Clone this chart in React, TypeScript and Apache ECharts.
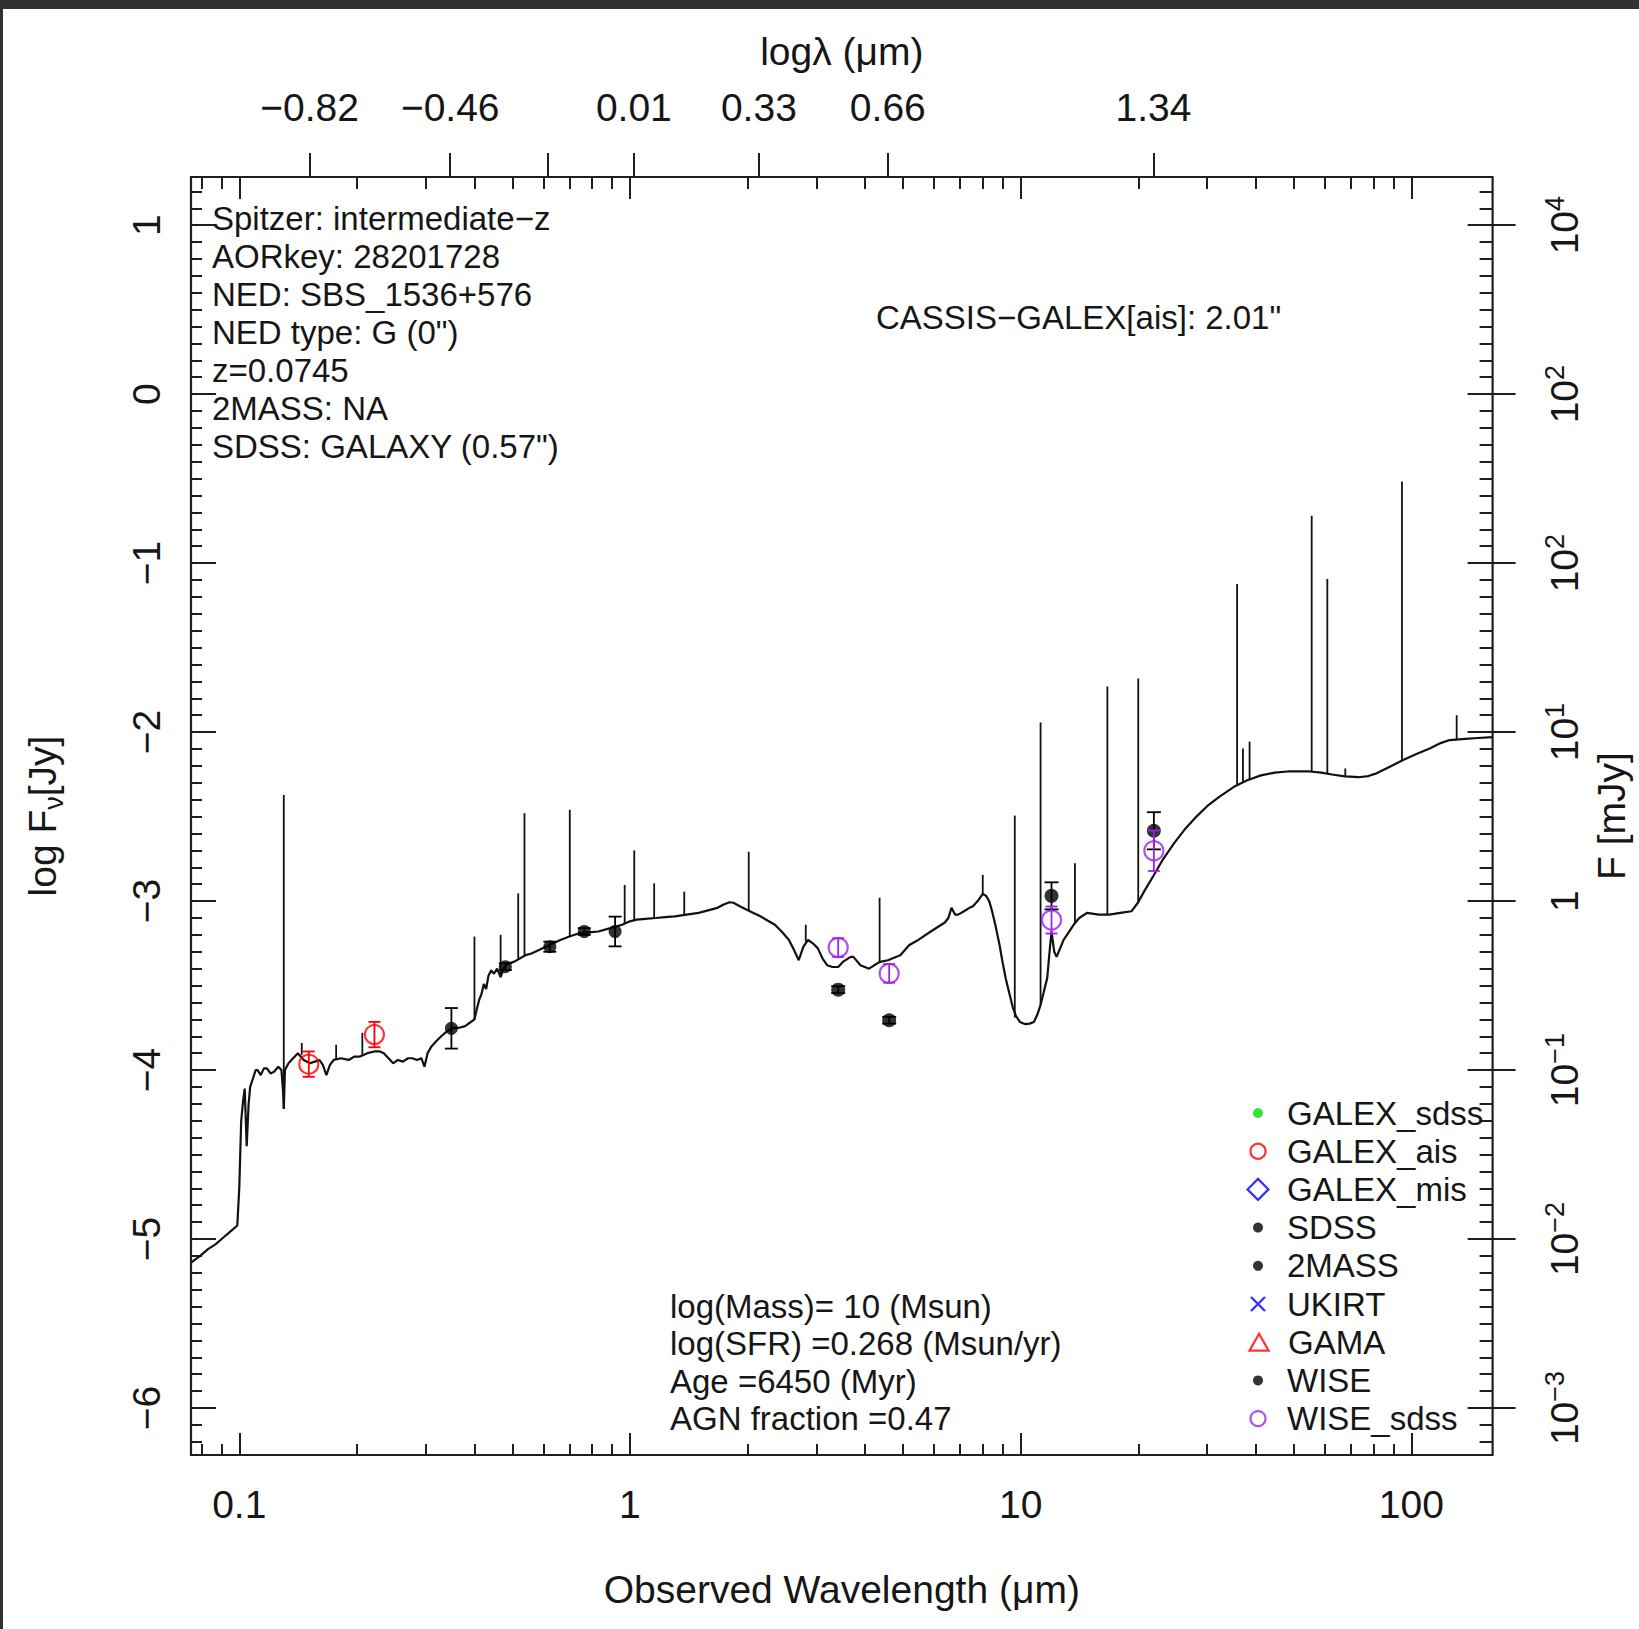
import React, { useEffect, useRef } from "react";
import * as echarts from "echarts";

const W = 1639;
const H = 1629;
const FONT = "'Liberation Sans', Arial, Helvetica, sans-serif";
const TXT = "#161616";
const AX = "#1e1e1e";

// ---- axis ranges (log10 wavelength in micron, log10 flux in Jy) ----
const X_MIN = -1.1235;
const X_MAX = 2.208;
const Y_MIN = -6.278;
const Y_MAX = 1.285;

// ---- tick labels ----
const bottomTickVals = [-1, 0, 1, 2];
const bottomTickLabels = ["0.1", "1", "10", "100"];
const topTickVals = [-0.82, -0.46, -0.21, 0.01, 0.33, 0.66, 1.34];
const topTickLabels = ["\u22120.82", "\u22120.46", "", "0.01", "0.33", "0.66", "1.34"];
const leftTickVals = [-6, -5, -4, -3, -2, -1, 0, 1];
const leftTickLabels = ["\u22126", "\u22125", "\u22124", "\u22123", "\u22122", "\u22121", "0", "1"];
const rightTickLabels = [
  "{b|10}{s|\u22123}",
  "{b|10}{s|\u22122}",
  "{b|10}{s|\u22121}",
  "{b|1}",
  "{b|10}{s|1}",
  "{b|10}{s|2}",
  "{b|10}{s|2}",
  "{b|10}{s|4}",
];

// ---- model SED continuum: log10(lambda/um), log10(F/Jy) ----
const modelLogLam = [
  -1.1235, -1.1, -1.08, -1.06, -1.045, -1.02, -1.005, -1.0, -0.995, -0.99, -0.986, -0.981, -0.976,
  -0.972, -0.965, -0.958, -0.953, -0.945, -0.937, -0.929, -0.92, -0.911, -0.9, -0.892, -0.888,
  -0.886, -0.883, -0.874, -0.862, -0.85, -0.835, -0.819, -0.807, -0.795, -0.786, -0.777, -0.768,
  -0.758, -0.74, -0.72, -0.705, -0.691, -0.672, -0.654, -0.64, -0.63, -0.618, -0.606, -0.594,
  -0.581, -0.568, -0.557, -0.545, -0.534, -0.526, -0.518, -0.508, -0.496, -0.483, -0.468, -0.453,
  -0.437, -0.422, -0.41, -0.398, -0.392, -0.386, -0.38, -0.374, -0.368, -0.362, -0.355, -0.348,
  -0.34, -0.331, -0.322, -0.312, -0.297, -0.282, -0.267, -0.252, -0.233, -0.215, -0.196, -0.178,
  -0.155, -0.13, -0.105, -0.081, -0.05, -0.02, 0.0, 0.017, 0.04, 0.066, 0.09, 0.115, 0.145, 0.176,
  0.2, 0.224, 0.24, 0.255, 0.265, 0.273, 0.285, 0.298, 0.316, 0.334, 0.352, 0.371, 0.39, 0.407,
  0.42, 0.432, 0.444, 0.456, 0.468, 0.481, 0.493, 0.505, 0.518, 0.533, 0.545, 0.555, 0.565, 0.572,
  0.59, 0.612, 0.625, 0.64, 0.66, 0.692, 0.715, 0.738, 0.77, 0.806, 0.815, 0.823, 0.832, 0.84,
  0.855, 0.869, 0.878, 0.89, 0.903, 0.912, 0.92, 0.928, 0.937, 0.946, 0.954, 0.962, 0.971, 0.98,
  0.988, 0.998, 1.011, 1.023, 1.034, 1.043, 1.051, 1.06, 1.068, 1.074, 1.079, 1.086, 1.092, 1.11,
  1.136, 1.15, 1.17, 1.2, 1.227, 1.255, 1.284, 1.3, 1.318, 1.34, 1.364, 1.392, 1.421, 1.45, 1.478,
  1.51, 1.546, 1.58, 1.615, 1.65, 1.683, 1.74, 1.77, 1.797, 1.83, 1.865, 1.89, 1.911, 1.945, 1.979,
  2.013, 2.047, 2.075, 2.098, 2.138, 2.17, 2.208,
];
const modelLogF = [
  -5.14, -5.1, -5.06, -5.03, -5.0, -4.95, -4.92, -4.7, -4.3, -4.18, -4.11, -4.45, -4.2,
  -4.1, -4.05, -4.0, -4.0, -4.03, -3.99, -3.99, -4.02, -4.01, -3.98, -4.0, -4.12,
  -4.23, -4.0, -3.96, -3.93, -3.9, -3.94, -3.96, -3.95, -3.94, -3.97, -4.03, -3.97,
  -3.94, -3.93, -3.94, -3.92, -3.92, -3.9, -3.89, -3.89, -3.9, -3.93, -3.96, -3.94,
  -3.95, -3.93, -3.93, -3.94, -3.93, -3.98, -3.9, -3.86, -3.83, -3.8, -3.77, -3.75,
  -3.75, -3.74, -3.72, -3.7, -3.64, -3.585, -3.55, -3.49, -3.52, -3.44, -3.41, -3.43,
  -3.4, -3.45, -3.39, -3.37, -3.36, -3.34, -3.32, -3.31, -3.29, -3.27, -3.25, -3.23,
  -3.21, -3.19, -3.185, -3.18, -3.16, -3.14, -3.12, -3.11, -3.105, -3.1, -3.095, -3.09, -3.08, -3.07,
  -3.055, -3.04, -3.02, -3.007, -3.01, -3.02, -3.035, -3.05, -3.07, -3.09, -3.115, -3.14, -3.185, -3.23,
  -3.29, -3.35, -3.27, -3.23, -3.25, -3.28, -3.34, -3.38, -3.39, -3.39, -3.36, -3.345, -3.33, -3.33,
  -3.38, -3.4, -3.38, -3.36, -3.35, -3.32, -3.26, -3.23, -3.18, -3.127, -3.1, -3.04, -3.08, -3.08,
  -3.06, -3.04, -3.03, -3.0, -2.957, -2.97, -3.003, -3.07, -3.16, -3.26, -3.365, -3.46, -3.546, -3.63,
  -3.68, -3.715, -3.728, -3.725, -3.716, -3.67, -3.614, -3.53, -3.456, -3.3, -3.18, -3.3, -3.33, -3.23,
  -3.139, -3.1, -3.07, -3.08, -3.08, -3.07, -3.06, -3.01, -2.935, -2.85, -2.754, -2.66, -2.573, -2.5, -2.437,
  -2.38, -2.324, -2.285, -2.256, -2.24, -2.233, -2.233, -2.24, -2.251, -2.262, -2.267, -2.26, -2.244, -2.205, -2.165,
  -2.13, -2.097, -2.065, -2.047, -2.04, -2.035, -2.03,
];

// ---- emission lines of the model: position, foot, peak ----
const lineLogLam = [
  -0.886, -0.84, -0.752, -0.685, -0.398, -0.331, -0.286, -0.27, -0.154, -0.0135, 0.011, 0.062,
  0.139, 0.304, 0.45, 0.639, 0.903, 0.985, 1.051, 1.139, 1.222, 1.301, 1.554, 1.569, 1.586,
  1.745, 1.785, 1.831, 1.976, 2.116,
];
const lineBase = [
  -4.23, -3.91, -3.94, -3.91, -3.7, -3.45, -3.34, -3.33, -3.21, -3.135, -3.115, -3.1,
  -3.085, -3.055, -3.24, -3.36, -2.957, -3.69, -3.614, -3.135, -3.08, -3.01, -2.31, -2.3, -2.285,
  -2.233, -2.245, -2.262, -2.168, -2.044,
];
const lineTop = [
  -2.372, -3.84, -3.85, -3.78, -3.21, -3.2, -2.954, -2.48, -2.46, -2.905, -2.7, -2.895,
  -2.944, -2.708, -3.14, -2.98, -2.845, -2.494, -1.943, -2.776, -1.73, -1.683, -1.124, -2.097, -2.056,
  -0.72, -1.094, -2.215, -0.517, -1.9,
];

// ---- photometry ----
const galexAisLogLam = [-0.822, -0.654];
const galexAisLogF = [-3.965, -3.79];
const galexAisErr = [0.075, 0.075];

const sdssLogLam = [-0.457, -0.319, -0.205, -0.117, -0.038];
const sdssLogF = [-3.753, -3.388, -3.27, -3.18, -3.18];
const sdssErr = [0.12, 0.02, 0.03, 0.02, 0.088];

const wiseLogLam = [0.533, 0.6635, 1.079, 1.341];
const wiseLogF = [-3.524, -3.705, -2.969, -2.584];
const wiseErr = [0.02, 0.02, 0.08, 0.11];

const wiseSdssLogLam = [0.533, 0.6635, 1.079, 1.341];
const wiseSdssLogF = [-3.275, -3.428, -3.112, -2.702];
const wiseSdssErr = [0.055, 0.055, 0.08, 0.12];

// ---- legend ----
const legendNames = ["GALEX_sdss", "GALEX_ais", "GALEX_mis", "SDSS", "2MASS", "UKIRT", "GAMA", "WISE", "WISE_sdss"];

// ---- annotations ----
const infoLines = [
  "Spitzer: intermediate\u2212z",
  "AORkey: 28201728",
  "NED: SBS_1536+576",
  "NED type: G (0\")",
  "z=0.0745",
  "2MASS: NA",
  "SDSS: GALAXY (0.57\")",
];
const matchText = "CASSIS\u2212GALEX[ais]: 2.01\"";
const fitLines = [
  "log(Mass)= 10 (Msun)",
  "log(SFR) =0.268 (Msun/yr)",
  "Age =6450 (Myr)",
  "AGN fraction =0.47",
];

const C_RED = "#ff0000";
const C_GREEN = "#00e000";
const C_BLUE = "#0000ff";
const C_PURPLE = "#a020f0";
const C_BLACK = "#000000";

function xMinorTicks(): number[] {
  const out: number[] = [];
  for (let n = -2; n <= 2; n++) {
    for (let k = 2; k <= 9; k++) {
      const v = n + Math.log10(k);
      if (v > X_MIN && v < X_MAX) out.push(v);
    }
  }
  return out;
}
function yMinorTicks(): number[] {
  const out: number[] = [];
  for (let i = -62; i <= 12; i++) {
    if (i % 10 !== 0) out.push(i / 10);
  }
  return out;
}

function pickLabel(vals: number[], labels: string[]) {
  return (v: number) => {
    const i = vals.findIndex((t) => Math.abs(t - v) < 1e-6);
    return i >= 0 ? labels[i] : "";
  };
}

function makeErrRender(color: string, lw: number, cap: number) {
  return (_params: any, api: any) => {
    const x = api.value(0);
    const y = api.value(1);
    const e = api.value(2);
    const p1 = api.coord([x, y + e]);
    const p2 = api.coord([x, y - e]);
    const st = { stroke: color, lineWidth: lw };
    return {
      type: "group",
      children: [
        { type: "line", shape: { x1: p1[0], y1: p1[1], x2: p2[0], y2: p2[1] }, style: st },
        { type: "line", shape: { x1: p1[0] - cap, y1: p1[1], x2: p1[0] + cap, y2: p1[1] }, style: st },
        { type: "line", shape: { x1: p2[0] - cap, y1: p2[1], x2: p2[0] + cap, y2: p2[1] }, style: st },
      ],
    };
  };
}

function buildOption() {
  const tickLine = { color: AX, width: 2 };
  const xMinor = xMinorTicks();
  const yMinor = yMinorTicks();
  const xBase = {
    type: "value",
    min: X_MIN,
    max: X_MAX,
    splitLine: { show: false },
    axisLine: { show: false, onZero: false },
  };
  const yBase = {
    type: "value",
    min: Y_MIN,
    max: Y_MAX,
    splitLine: { show: false },
    axisLine: { show: false, onZero: false },
  };
  const labelFont = { fontSize: 39, fontFamily: FONT, color: TXT };

  const xAxis = [
    {
      ...xBase,
      position: "bottom",
      axisTick: { show: true, inside: true, length: 22, lineStyle: tickLine, customValues: bottomTickVals },
      axisLabel: {
        show: true,
        customValues: bottomTickVals,
        formatter: pickLabel(bottomTickVals, bottomTickLabels),
        margin: 30,
        ...labelFont,
      },
      name: "Observed Wavelength (\u03bcm)",
      nameLocation: "middle",
      nameGap: 115,
      nameTextStyle: { ...labelFont },
    },
    {
      ...xBase,
      position: "bottom",
      axisTick: { show: true, inside: true, length: 11, lineStyle: tickLine, customValues: xMinor },
      axisLabel: { show: false },
    },
    {
      ...xBase,
      position: "top",
      axisTick: { show: true, inside: true, length: 22, lineStyle: tickLine, customValues: bottomTickVals },
      axisLabel: { show: false },
    },
    {
      ...xBase,
      position: "top",
      axisTick: { show: true, inside: true, length: 12, lineStyle: tickLine, customValues: xMinor },
      axisLabel: { show: false },
    },
    {
      ...xBase,
      position: "top",
      axisTick: { show: true, inside: false, length: 24, lineStyle: tickLine, customValues: topTickVals },
      axisLabel: {
        show: true,
        customValues: topTickVals,
        formatter: pickLabel(topTickVals, topTickLabels),
        margin: 50,
        ...labelFont,
      },
      name: "log\u03bb (\u03bcm)",
      nameLocation: "middle",
      nameGap: 106,
      nameTextStyle: { ...labelFont },
    },
  ];

  const yAxis = [
    {
      ...yBase,
      position: "left",
      axisTick: { show: true, inside: true, length: 25, lineStyle: tickLine, customValues: leftTickVals },
      axisLabel: {
        show: true,
        customValues: leftTickVals,
        formatter: pickLabel(leftTickVals, leftTickLabels),
        rotate: 90,
        margin: 25,
        ...labelFont,
      },
      name: "{a|log F}{s|\u03bd}{a|[Jy]}",
      nameLocation: "middle",
      nameRotate: 90,
      nameGap: 124,
      nameTextStyle: {
        rich: {
          a: { fontSize: 39, fontFamily: FONT, color: TXT, lineHeight: 50 },
          s: { fontSize: 27, fontFamily: FONT, color: TXT, lineHeight: 50, verticalAlign: "bottom" },
        },
      },
    },
    {
      ...yBase,
      position: "left",
      axisTick: { show: true, inside: true, length: 11, lineStyle: tickLine, customValues: yMinor },
      axisLabel: { show: false },
    },
    {
      ...yBase,
      position: "right",
      axisTick: { show: true, inside: true, length: 25, lineStyle: tickLine, customValues: leftTickVals },
      axisLabel: { show: false },
    },
    {
      ...yBase,
      position: "right",
      axisTick: { show: true, inside: true, length: 13, lineStyle: tickLine, customValues: yMinor },
      axisLabel: { show: false },
    },
    {
      ...yBase,
      position: "right",
      axisTick: { show: true, inside: false, length: 23, lineStyle: tickLine, customValues: leftTickVals },
      axisLabel: {
        show: true,
        customValues: leftTickVals,
        formatter: pickLabel(leftTickVals, rightTickLabels),
        rotate: 90,
        margin: 49,
        rich: {
          b: { fontSize: 39, fontFamily: FONT, color: TXT, lineHeight: 46 },
          s: { fontSize: 27, fontFamily: FONT, color: TXT, verticalAlign: "top" },
        },
      },
      name: "F [mJy]",
      nameLocation: "middle",
      nameRotate: 90,
      nameGap: 98,
      nameTextStyle: { ...labelFont },
    },
  ];

  const pairs = (xs: number[], ys: number[]) => xs.map((x, i) => [x, ys[i]]);
  const triples = (xs: number[], ys: number[], es: number[]) => xs.map((x, i) => [x, ys[i], es[i]]);

  const series: any[] = [
    {
      type: "line",
      name: "model",
      data: pairs(modelLogLam, modelLogF),
      showSymbol: false,
      symbol: "none",
      lineStyle: { color: "#111", width: 2.2 },
      z: 3,
    },
    {
      type: "custom",
      name: "lines",
      data: triples(lineLogLam, lineBase, lineTop),
      renderItem: (_p: any, api: any) => {
        const x = api.value(0);
        const a = api.coord([x, api.value(1)]);
        const b = api.coord([x, api.value(2)]);
        return {
          type: "line",
          shape: { x1: a[0], y1: a[1], x2: b[0], y2: b[1] },
          style: { stroke: "#111", lineWidth: 1.8 },
        };
      },
      z: 3,
    },
    { type: "scatter", name: "GALEX_sdss", data: [], itemStyle: { color: C_GREEN } },
    {
      type: "scatter",
      name: "GALEX_ais",
      data: pairs(galexAisLogLam, galexAisLogF),
      symbol: "circle",
      symbolSize: 19,
      itemStyle: { color: "rgba(0,0,0,0)", borderColor: C_RED, borderWidth: 2.2 },
      z: 5,
    },
    { type: "scatter", name: "GALEX_mis", data: [], itemStyle: { color: C_BLUE } },
    {
      type: "scatter",
      name: "SDSS",
      data: pairs(sdssLogLam, sdssLogF),
      symbol: "circle",
      symbolSize: 13,
      itemStyle: { color: C_BLACK },
      z: 5,
    },
    { type: "scatter", name: "2MASS", data: [], itemStyle: { color: C_BLACK } },
    { type: "scatter", name: "UKIRT", data: [], itemStyle: { color: C_BLUE } },
    { type: "scatter", name: "GAMA", data: [], itemStyle: { color: C_RED } },
    {
      type: "scatter",
      name: "WISE",
      data: pairs(wiseLogLam, wiseLogF),
      symbol: "circle",
      symbolSize: 14,
      itemStyle: { color: C_BLACK },
      z: 5,
    },
    {
      type: "scatter",
      name: "WISE_sdss",
      data: pairs(wiseSdssLogLam, wiseSdssLogF),
      symbol: "circle",
      symbolSize: 19,
      itemStyle: { color: "rgba(0,0,0,0)", borderColor: C_PURPLE, borderWidth: 2.2 },
      z: 5,
    },
    {
      type: "custom",
      data: triples(galexAisLogLam, galexAisLogF, galexAisErr),
      renderItem: makeErrRender(C_RED, 1.8, 6),
      z: 6,
    },
    {
      type: "custom",
      data: triples(sdssLogLam, sdssLogF, sdssErr),
      renderItem: makeErrRender(C_BLACK, 1.8, 6.5),
      z: 6,
    },
    {
      type: "custom",
      data: triples(wiseLogLam, wiseLogF, wiseErr),
      renderItem: makeErrRender(C_BLACK, 1.8, 7),
      z: 6,
    },
    {
      type: "custom",
      data: triples(wiseSdssLogLam, wiseSdssLogF, wiseSdssErr),
      renderItem: makeErrRender(C_PURPLE, 1.8, 6),
      z: 6,
    },
  ];

  const legendIcon: Record<string, any> = {
    GALEX_sdss: { icon: "circle", size: 10, lw: 0, style: { color: C_GREEN, borderWidth: 0 } },
    GALEX_ais: { icon: "circle", size: 15, lw: 2.2, style: { color: "#fff", borderColor: C_RED, borderWidth: 2.2 } },
    GALEX_mis: {
      icon: "path://M10,0L20,10L10,20L0,10Z",
      size: 21,
      lw: 2.2,
      style: { color: "rgba(0,0,0,0)", borderColor: C_BLUE, borderWidth: 2.2 },
    },
    SDSS: { icon: "circle", size: 10, lw: 0, style: { color: C_BLACK, borderWidth: 0 } },
    "2MASS": { icon: "circle", size: 10, lw: 0, style: { color: C_BLACK, borderWidth: 0 } },
    UKIRT: {
      icon: "path://M0,0L14,14M14,0L0,14",
      size: 14,
      lw: 2.4,
      style: { color: "rgba(0,0,0,0)", borderColor: C_BLUE, borderWidth: 2.4 },
    },
    GAMA: {
      icon: "path://M9,0L18,16L0,16Z",
      size: 17,
      lw: 2.2,
      style: { color: "rgba(0,0,0,0)", borderColor: C_RED, borderWidth: 2.2 },
    },
    WISE: { icon: "circle", size: 10, lw: 0, style: { color: C_BLACK, borderWidth: 0 } },
    WISE_sdss: { icon: "circle", size: 15, lw: 2.2, style: { color: "#fff", borderColor: C_PURPLE, borderWidth: 2.2 } },
  };

  const markerCenterX = 1258;
  const legend = legendNames.map((name, i) => {
    const cfg = legendIcon[name];
    return {
      show: true,
      orient: "vertical",
      left: markerCenterX - cfg.size / 2 - cfg.lw / 2,
      top: 1113 + i * 38.2 - 19,
      padding: 0,
      itemGap: 0,
      itemWidth: 48,
      itemHeight: cfg.size,
      selectedMode: false,
      symbolKeepAspect: true,
      textStyle: { fontSize: 33, fontFamily: FONT, color: TXT, lineHeight: 38 },
      data: [{ name, icon: cfg.icon, itemStyle: cfg.style }],
    };
  });

  const textEl = (text: string, x: number, y: number) => ({
    type: "text",
    x,
    y,
    z: 100,
    style: { text, fill: TXT, fontSize: 33, fontFamily: FONT, align: "left", verticalAlign: "middle" },
  });

  const graphic: any[] = [
    { type: "rect", shape: { x: 0, y: 0, width: W, height: 9 }, style: { fill: "#2f3133" }, z: 200 },
    { type: "rect", shape: { x: 0, y: 0, width: 3, height: H }, style: { fill: "#2f3133" }, z: 200 },
    ...infoLines.map((t, i) => textEl(t, 212, 218 + i * 38)),
    textEl(matchText, 876, 317),
    ...fitLines.map((t, i) => textEl(t, 670, 1306 + i * 37.5)),
  ];

  return {
    animation: false,
    backgroundColor: "#ffffff",
    textStyle: { fontFamily: FONT },
    grid: {
      left: 191,
      right: W - 1497,
      top: 177,
      bottom: H - 1455,
      show: true,
      borderColor: AX,
      borderWidth: 2.2,
      backgroundColor: "rgba(0,0,0,0)",
      containLabel: false,
    },
    xAxis,
    yAxis,
    legend,
    series,
    graphic,
  };
}

export default function App() {
  const ref = useRef<HTMLDivElement>(null);
  useEffect(() => {
    document.body.style.margin = "0";
    const chart = echarts.init(ref.current as HTMLDivElement, null, { renderer: "svg" });
    chart.setOption(buildOption() as any);
    return () => chart.dispose();
  }, []);
  return <div ref={ref} style={{ width: W, height: H, background: "#fff" }} />;
}
